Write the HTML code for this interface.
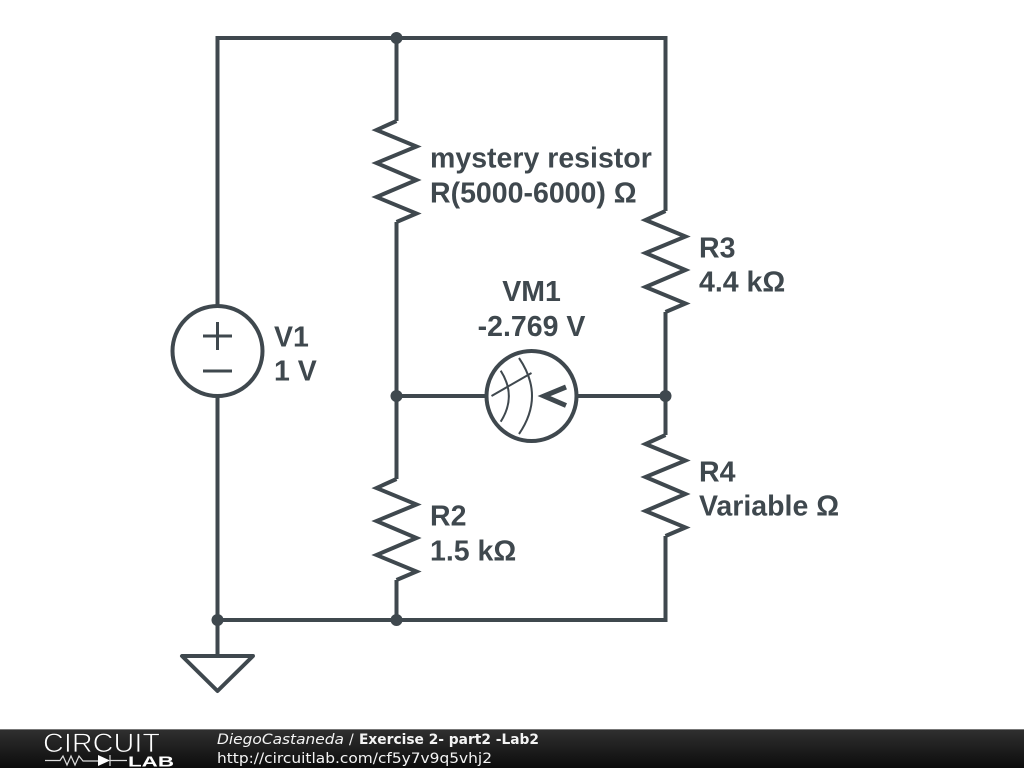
<!DOCTYPE html>
<html><head><meta charset="utf-8"><style>
html,body{margin:0;padding:0;background:#fff;width:1024px;height:768px;overflow:hidden}
svg{display:block}
.l{font-family:"Liberation Sans",sans-serif;font-weight:700;font-size:28.5px;fill:#3f484e}
.f{font-family:"DejaVu Sans",sans-serif;font-size:14px;fill:#f4f4f4}
</style></head><body>
<svg width="1024" height="768" viewBox="0 0 1024 768" xmlns="http://www.w3.org/2000/svg">
<defs>
<linearGradient id="g" x1="0" y1="0" x2="0" y2="1"><stop offset="0" stop-color="#303030"/><stop offset="1" stop-color="#0c0c0c"/></linearGradient>
<polyline id="r" points="0,0 -20,9 20,25.500 -20,42 20,59 -20,76 20,92.500 0,101" fill="none" stroke="#3f484e" stroke-width="4" stroke-linejoin="miter"/>
</defs>
<g fill="none" stroke="#3f484e" stroke-width="4">
<path d="M217.500 306V38H665.500V211M665.500 312V435M665.500 536V620H217.500V396M217.500 620V656"/>
<path d="M396.500 38V121M396.500 222V479M396.500 580V620"/>
<path d="M396.500 396H486M577 396H665.500"/>
<circle cx="217.500" cy="351" r="45"/>
<circle cx="531.500" cy="396" r="45"/>
<path d="M182 656H253L217.500 691Z" stroke-linejoin="round"/>
<path d="M203 336H232M217.500 322V350M203 371H232" stroke-width="3"/>
<path d="M566 387L544 396L566 405.500" stroke-width="5"/>
<path d="M491.500 396L531.500 373" stroke-width="2"/>
<path d="M500.700 370.700Q517 396 500.700 421.700M519 358Q545 396 519 434" stroke-width="2"/>
</g>
<use href="#r" x="396.500" y="121"/>
<use href="#r" x="396.500" y="479"/>
<use href="#r" x="665.500" y="211"/>
<use href="#r" x="665.500" y="435"/>
<g fill="#3f484e">
<circle cx="396.500" cy="38" r="6"/>
<circle cx="396.500" cy="396" r="6"/>
<circle cx="665.500" cy="396" r="6"/>
<circle cx="217.500" cy="620" r="6"/>
<circle cx="396.500" cy="620" r="6"/>
</g>
<text class="l" x="430" y="167.500">mystery resistor</text>
<text class="l" x="430" y="202.500">R(5000-6000) Ω</text>
<text class="l" x="699" y="257.500">R3</text>
<text class="l" x="699" y="291.500">4.4 kΩ</text>
<text class="l" x="531.500" y="301" text-anchor="middle">VM1</text>
<text class="l" x="531.500" y="336" text-anchor="middle">-2.769 V</text>
<text class="l" x="274" y="346.500">V1</text>
<text class="l" x="274" y="380.500">1 V</text>
<text class="l" x="699" y="481.500">R4</text>
<text class="l" x="699" y="515.500">Variable Ω</text>
<text class="l" x="430" y="525.500">R2</text>
<text class="l" x="430" y="560.500">1.5 kΩ</text>
<rect x="0" y="729" width="1024" height="39" fill="url(#g)"/>
<rect x="0" y="729" width="1024" height="1" fill="#777"/>
<text x="43" y="752" font-family="Liberation Sans,sans-serif" font-size="27" fill="#fff" stroke="#222" stroke-width="0.800" textLength="117" lengthAdjust="spacingAndGlyphs">CIRCUIT</text>
<g fill="none" stroke="#ddd" stroke-width="1.200">
<path d="M45 760.500H60L63 756L67 765L71 756L75 765L79 756L83 761H98M110 755V766M110 760.500H127"/>
</g>
<path d="M98 755L110 760.500L98 766Z" fill="#fff"/>
<text x="128" y="766.500" font-family="Liberation Sans,sans-serif" font-size="15" font-weight="700" fill="#fff" textLength="46" lengthAdjust="spacingAndGlyphs">LAB</text>
<text class="f" x="217" y="744" font-style="italic" textLength="127" lengthAdjust="spacingAndGlyphs">DiegoCastaneda</text>
<text class="f" x="349" y="744">/</text>
<text class="f" x="359" y="744" font-weight="700" textLength="180" lengthAdjust="spacingAndGlyphs">Exercise 2- part2 -Lab2</text>
<text class="f" x="217" y="763" textLength="275" lengthAdjust="spacingAndGlyphs">http://circuitlab.com/cf5y7v9q5vhj2</text>
</svg>
</body></html>
